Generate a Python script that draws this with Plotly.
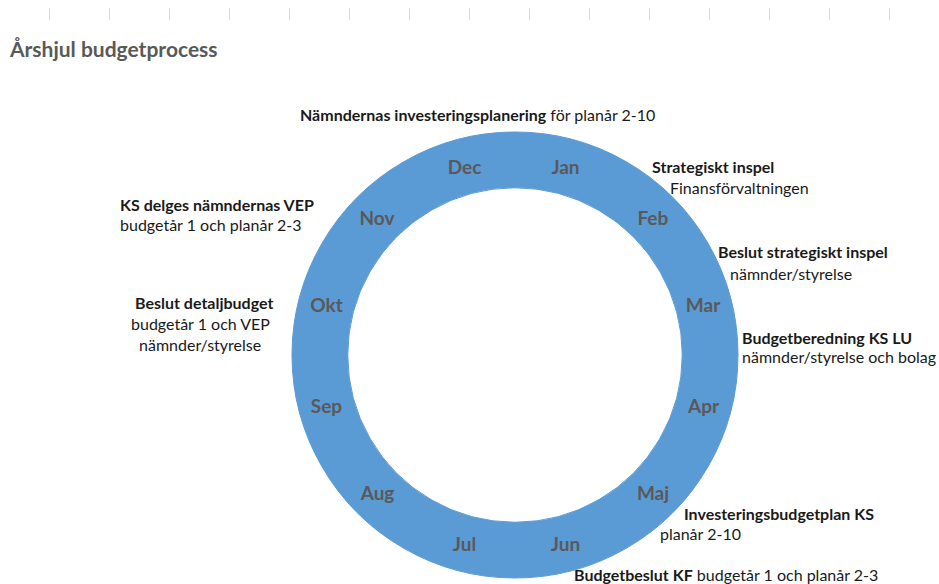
import plotly.graph_objects as go

W, H = 939, 584

months = ["Jan", "Feb", "Mar", "Apr", "Maj", "Jun",
          "Jul", "Aug", "Sep", "Okt", "Nov", "Dec"]
month_share = [1] * 12

title_text = "Årshjul budgetprocess"

notes_bold = [
    "Nämndernas investeringsplanering",
    "Strategiskt inspel", "",
    "Beslut strategiskt inspel", "",
    "Budgetberedning KS LU", "",
    "Investeringsbudgetplan KS", "",
    "Budgetbeslut KF",
    "KS delges nämndernas VEP", "",
    "Beslut detaljbudget", "", "",
]
notes_normal = [
    " för planår 2-10",
    "", "Finansförvaltningen",
    "", "nämnder/styrelse",
    "", "nämnder/styrelse och bolag",
    "", "planår 2-10",
    " budgetår 1 och planår 2-3",
    "", "budgetår 1 och planår 2-3",
    "", "budgetår 1 och VEP", "nämnder/styrelse",
]
notes_x = [298, 650, 668, 716, 728, 740, 740, 682, 658, 572, 118, 118, 133, 129, 137]
notes_y = [115, 166, 187, 252, 273, 337, 357, 513, 533, 574, 204, 225, 302, 323, 344]

ruler_ticks = list(range(15))

FONT = "Lato"
BLUE = "#5B9BD5"

fig = go.Figure()
cx, cy, R = 515, 355, 223
fig.add_trace(go.Pie(
    labels=months, values=month_share, sort=False, direction="clockwise",
    rotation=0, hole=0.75,
    marker=dict(colors=[BLUE] * 12, line=dict(width=1, color=BLUE)),
    textinfo="label", textposition="inside",
    insidetextorientation="horizontal",
    textfont=dict(family=FONT, size=19, color="#595959", weight="bold"),
    showlegend=False, hoverinfo="label",
    domain=dict(x=[(cx - R) / W, (cx + R) / W],
                y=[(H - cy - R) / H, (H - cy + R) / H]),
))
# invisible trace so the ruler axis is drawn
fig.add_trace(go.Scatter(x=ruler_ticks, y=[0.5] * len(ruler_ticks), mode="markers",
                         marker=dict(size=1, opacity=0), hoverinfo="skip",
                         showlegend=False))

anns = []
for b, n, x, y in zip(notes_bold, notes_normal, notes_x, notes_y):
    txt = (f"<b>{b}</b>" if b else "") + n
    anns.append(dict(text=txt, x=x / W, y=1 - y / H, xref="paper", yref="paper",
                     xanchor="left", yanchor="middle", showarrow=False,
                     font=dict(family=FONT, size=16, color="#1a1a1a")))
anns.append(dict(text=f"<b>{title_text}</b>", x=7 / W, y=1 - 48 / H,
                 xref="paper", yref="paper", xanchor="left", yanchor="middle",
                 showarrow=False, font=dict(family=FONT, size=21, color="#595959")))

fig.update_layout(
    width=W, height=H, paper_bgcolor="white", plot_bgcolor="rgba(0,0,0,0)",
    margin=dict(l=0, r=0, t=0, b=0, autoexpand=False),
    annotations=anns,
    xaxis=dict(range=[-49 / 60, (W - 49) / 60], tickvals=ruler_ticks, side="top",
               ticks="inside", ticklen=12, tickcolor="#d9d9d9", tickwidth=1,
               showticklabels=False, showgrid=False, zeroline=False, showline=False,
               fixedrange=True),
    yaxis=dict(domain=[1 - 20 / H, 1 - 8 / H], range=[0, 1], visible=False,
               fixedrange=True),
)
fig.write_html("out.html", config={"displayModeBar": False},
               post_script="document.body.style.margin='0';")
